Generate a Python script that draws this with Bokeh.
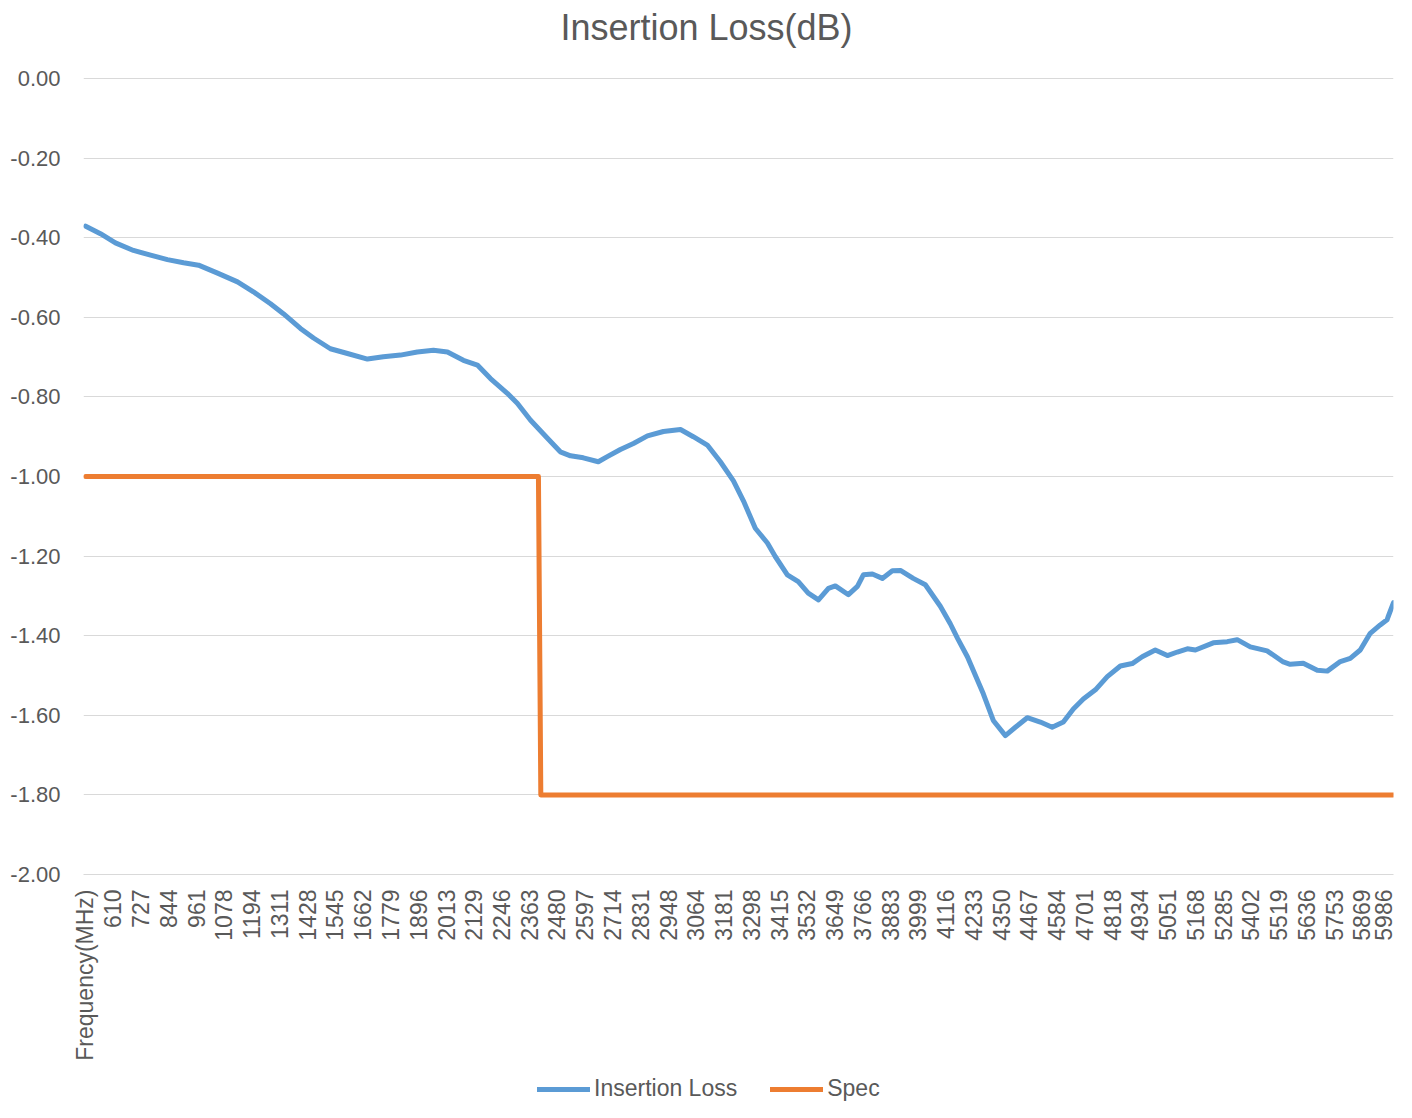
import math
from bokeh.plotting import figure
from bokeh.layouts import column
from bokeh.models import (FixedTicker, Legend, LegendItem, NumeralTickFormatter, Range1d, Label)
from bokeh.embed import file_html
from bokeh.resources import INLINE

# ---- data ----
freq_il = [494, 556, 619, 695, 767, 838, 906, 969, 1049, 1133, 1200, 1272, 1326, 1398, 1453,
           1524, 1596, 1680, 1747, 1819, 1890, 1958, 2017, 2084, 2143, 2198, 2269, 2311, 2366,
           2438, 2492, 2535, 2589, 2652, 2690, 2745, 2800, 2859, 2926, 2998, 3052, 3111, 3166,
           3221, 3263, 3313, 3364, 3397, 3448, 3494, 3536, 3579, 3621, 3650, 3705, 3743, 3768,
           3806, 3848, 3890, 3924, 3978, 4029, 4092, 4134, 4164, 4206, 4273, 4315, 4366, 4408,
           4458, 4513, 4563, 4610, 4652, 4694, 4745, 4795, 4850, 4900, 4942, 4997, 5048, 5090,
           5132, 5166, 5241, 5300, 5342, 5397, 5468, 5536, 5565, 5620, 5679, 5721, 5776, 5818,
           5860, 5902, 5944, 5973, 5977, 6000]
il = [-0.371, -0.390, -0.413, -0.432, -0.444, -0.455, -0.463, -0.469, -0.489, -0.511, -0.536,
      -0.566, -0.591, -0.628, -0.652, -0.679, -0.691, -0.705, -0.699, -0.695, -0.687, -0.683,
      -0.687, -0.708, -0.720, -0.754, -0.791, -0.816, -0.858, -0.904, -0.938, -0.948, -0.953,
      -0.963, -0.950, -0.932, -0.917, -0.898, -0.887, -0.882, -0.900, -0.921, -0.963, -1.011,
      -1.061, -1.130, -1.167, -1.201, -1.247, -1.264, -1.293, -1.310, -1.281, -1.275, -1.297,
      -1.276, -1.247, -1.245, -1.256, -1.237, -1.236, -1.256, -1.272, -1.326, -1.370, -1.406,
      -1.453, -1.546, -1.613, -1.651, -1.630, -1.606, -1.617, -1.630, -1.617, -1.584, -1.559,
      -1.536, -1.503, -1.476, -1.470, -1.453, -1.436, -1.450, -1.441, -1.433, -1.436, -1.418,
      -1.415, -1.410, -1.428, -1.438, -1.466, -1.472, -1.469, -1.487, -1.489, -1.465, -1.457,
      -1.436, -1.394, -1.373, -1.360, -1.353, -1.317]

spec_freq = [494, 2400, 2410, 6000]
spec = [-1.0, -1.0, -1.8, -1.8]

tick_freqs = [493, 610, 727, 844, 961, 1078, 1194, 1311, 1428, 1545, 1662, 1779, 1896, 2013,
              2129, 2246, 2363, 2480, 2597, 2714, 2831, 2948, 3064, 3181, 3298, 3415, 3532,
              3649, 3766, 3883, 3999, 4116, 4233, 4350, 4467, 4584, 4701, 4818, 4934, 5051,
              5168, 5285, 5402, 5519, 5636, 5753, 5869, 5986]
tick_labels = ["Frequency(MHz)"] + [str(f) for f in tick_freqs[1:]]
y_ticks = [0.0, -0.2, -0.4, -0.6, -0.8, -1.0, -1.2, -1.4, -1.6, -1.8, -2.0]
series_names = ["Insertion Loss", "Spec"]
series_colors = ["#5B9BD5", "#ED7D31"]
title_text = "Insertion Loss(dB)"

FONT = "Liberation Sans"
TXT = "#595959"


def strip(h):
    s = figure(width=1396, height=h, output_backend="svg", toolbar_location=None,
               x_range=Range1d(0, 1), y_range=Range1d(0, 1),
               min_border_left=0, min_border_right=0, min_border_top=0, min_border_bottom=0,
               background_fill_color="white", border_fill_color="white")
    s.outline_line_color = None
    s.axis.visible = False
    s.grid.visible = False
    return s


# title strip
pt = strip(54)
pt.add_layout(Label(x=0.4756, y=0.5, text=title_text, text_align="center", text_baseline="middle",
                    text_font=FONT, text_font_size="36px", text_color=TXT))

# main chart
p = figure(width=1396, height=1014, output_backend="svg", toolbar_location=None,
           x_range=Range1d(484.6, 6000), y_range=Range1d(-2.0, 0.0025),
           min_border_left=83, min_border_right=3, min_border_top=23, min_border_bottom=194,
           background_fill_color="white", border_fill_color="white")
p.outline_line_color = None

# y axis
yt = FixedTicker(ticks=y_ticks, minor_ticks=[])
p.yaxis.ticker = yt
p.yaxis.formatter = NumeralTickFormatter(format="0.00")
p.yaxis.axis_line_color = None
p.yaxis.major_tick_line_color = None
p.yaxis.minor_tick_line_color = None
p.yaxis.major_label_text_font = FONT
p.yaxis.major_label_text_font_size = "22px"
p.yaxis.major_label_text_color = TXT
p.yaxis.major_label_standoff = 17

# x axis
xt = FixedTicker(ticks=tick_freqs, minor_ticks=[])
p.xaxis.ticker = xt
p.xaxis.major_label_overrides = {f: lab for f, lab in zip(tick_freqs, tick_labels)}
p.xaxis.major_label_orientation = math.pi / 2
p.xaxis.axis_line_color = "#D9D9D9"
p.xaxis.major_tick_line_color = None
p.xaxis.minor_tick_line_color = None
p.xaxis.major_label_text_font = FONT
p.xaxis.major_label_text_font_size = "23px"
p.xaxis.major_label_text_color = TXT
p.xaxis.major_label_standoff = 9

p.xgrid.visible = False
p.ygrid.ticker = yt
p.ygrid.grid_line_color = "#D9D9D9"
p.ygrid.grid_line_width = 1

p.line(freq_il, il, line_color=series_colors[0], line_width=5, line_join="round", line_cap="round")
p.line(spec_freq, spec, line_color=series_colors[1], line_width=5, line_join="round", line_cap="round")

# legend strip below the chart (its own renderers lie outside its ranges)
pl = strip(34)
lr = [pl.line(freq_il, il, line_color=series_colors[0], line_width=5, line_cap="round"),
      pl.line(spec_freq, spec, line_color=series_colors[1], line_width=5, line_cap="round")]
legend = Legend(items=[LegendItem(label=n, renderers=[r]) for n, r in zip(series_names, lr)],
                orientation="horizontal", location=(454, 0),
                padding=0, margin=0, spacing=33, label_standoff=4,
                glyph_width=53, glyph_height=24, label_height=24,
                border_line_color=None, background_fill_alpha=0,
                label_text_font=FONT, label_text_font_size="23px", label_text_color=TXT)
pl.add_layout(legend, "center")

layout = column(pt, p, pl, spacing=0)
open("out.html", "w").write(file_html(layout, INLINE))
